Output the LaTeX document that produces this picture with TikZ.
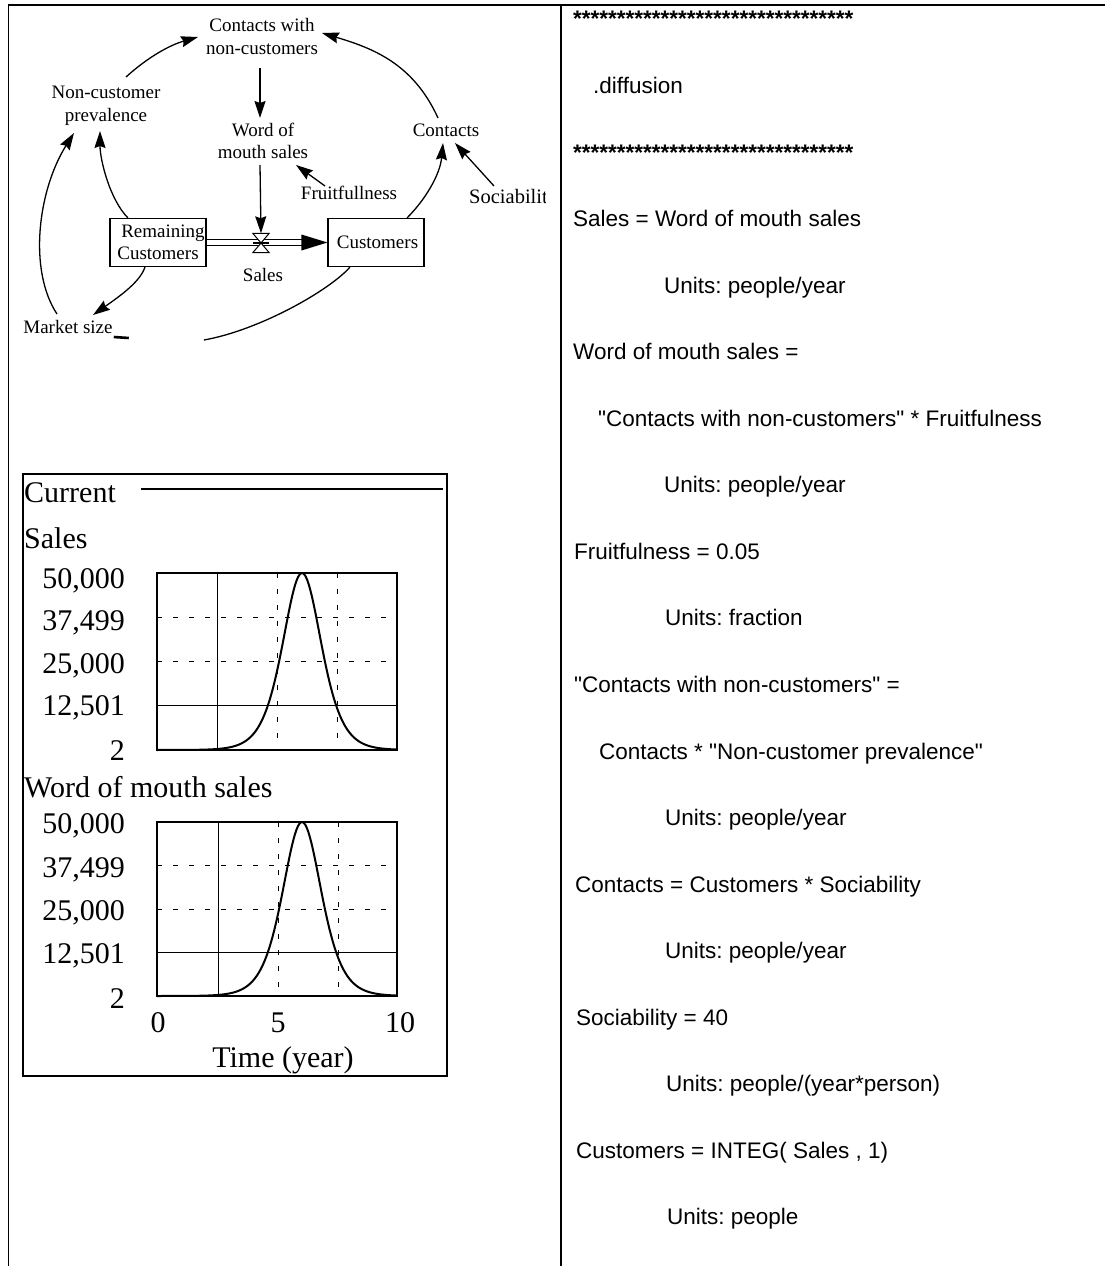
\documentclass[tikz,border=0pt]{standalone}
\usepackage{fontspec}
\setmainfont{Liberation Serif}
\newfontfamily\codefont{Liberation Sans}[Ligatures=TeXOff]
\usetikzlibrary{calc,arrows.meta}
\frenchspacing

\tikzset{
  lbl/.style={font=\fontsize{19}{22.5}\selectfont, align=center, inner sep=0pt},
  stock/.style={draw, line width=1.1pt, minimum width=96pt, minimum height=48pt,
    inner sep=0pt, font=\fontsize{19}{22}\selectfont, align=center},
  link/.style={line width=1.3pt, -{Stealth[length=17pt,width=11pt,inset=2pt]}},
  linkline/.style={line width=1.3pt},
  axlbl/.style={font=\fontsize{30}{35}\selectfont, inner sep=0pt},
  codeline/.style={font=\codefont\fontsize{22.5}{27}\selectfont, anchor=base west, inner sep=0pt},
  rule/.style={line width=1.8pt},
  plotframe/.style={line width=1.4pt},
  gridsolid/.style={line width=0.8pt},
  griddash/.style={line width=0.8pt, dash pattern=on 5pt off 11pt},
  simcurve/.style={line width=2pt, line join=round},
}

\begin{document}
\begin{tikzpicture}[x=1pt,y=-1pt]
\useasboundingbox (0,0) rectangle (1105,1266);

% page rules
\draw[rule] (8,5) -- (1105,5);
\draw[rule] (8.5,5) -- (8.5,1266);
\draw[rule] (561,5) -- (561,1266);

% ---------------- stock and flow diagram ----------------
\node[lbl] (cwn) at (262,36.5) {Contacts with\\non-customers};
\node[lbl] (ncp) at (106,106) {Non-customer\\prevalence};
\node[lbl] (wom) at (263,141) {Word of\\mouth sales};
\node[lbl] (con) at (446,130) {Contacts};
\node[lbl] (fru) at (349,193) {Fruitfullness};
\begin{scope}
  \clip (460,175) rectangle (545,215);
  \node[lbl, anchor=west, font=\fontsize{20.5}{24}\selectfont] (soc) at (469,198.7) {Sociability};
\end{scope}
\node[stock] (rc) at (158,242.5) {\hspace*{10pt}Remaining\\Customers};
\node[stock] (cust) at (376,242.5) {\hspace*{3pt}Customers};
\node[minimum width=16pt, minimum height=19pt, inner sep=0pt] (valve) at (261,243) {};
\node[lbl] (saleslbl) at (263,275) {Sales};
\node[lbl] (ms) at (68,327) {Market size};
\draw[line width=2.6pt] ($(ms.east)+(1,10)$) -- ++(15,1);

% flow pipe with valve
\draw[line width=1.1pt] ($(rc.east)+(0,-2.6)$) -- ($(cust.west)+(-24,-2.6)$);
\draw[line width=1.1pt] ($(rc.east)+(0,2.6)$) -- ($(cust.west)+(-24,2.6)$);
\fill (cust.west) -- ++(-26,-8) -- ++(0,16) -- cycle;
\draw[line width=1pt, fill=white, line join=miter]
  (valve.north west) -- (valve.north east) -- (valve.south west) -- (valve.south east) -- cycle;
\draw[line width=1.1pt] (valve.west) -- (valve.east);

% causal links
\draw[link] ($(ncp)+(20,-29)$) .. controls (148,57) and (170,45) .. ($(cwn)+(-64,0.5)$);
\draw[link] ($(con)+(-8,-12)$) .. controls (413,63) and (372,48) .. ($(cwn)+(60,-3.5)$);
\draw[link] ($(cwn)+(-2,31.5)$) -- ($(wom)+(-3,-23)$);
\draw[link] ($(wom)+(-3,24)$) -- (valve.north);
\draw[link] ($(fru)+(-24,-7)$) -- ($(wom)+(33,24)$);
\draw[link] ($(soc.west)+(25,-12.7)$) -- ($(con)+(9,13)$);
\draw[link] ($(cust.north)+(31,0)$) .. controls (425,200) and (440,175) .. ($(con)+(-3,13)$);
\draw[link] ($(rc.north)+(-30,0)$) .. controls (110,200) and (100,160) .. ($(ncp)+(-6,25)$);
\draw[link] ($(ms)+(-11,-13)$) .. controls (28,270) and (38,190) .. ($(ncp)+(-32,27)$);
\draw[link] ($(rc.south)+(-13,0)$) .. controls (140,282) and (120,296) .. ($(ms)+(25,-12)$);
\coordinate (loose) at (204,340);
\draw[linkline] ($(cust.south)+(-26,0)$) .. controls (330,290) and (260,330) .. (loose);

% ---------------- simulation graphs ----------------
\draw[plotframe] (23,474) rectangle (447,1076);
\node[axlbl, anchor=base west] (cur) at (24,502) {Current};
\draw[line width=1.5pt] ($(cur.base east)+(25,-13)$) -- (443,489);

% Sales
\node[axlbl, anchor=base west] (g1title) at (24,548) {Sales};
\foreach \v/\yy [count=\i] in {50{,}000/588, 37{,}499/630, 25{,}000/673, 12{,}501/715, 2/760}
  \node[axlbl, anchor=base east] (g1y\i) at (125,\yy) {\v};
\draw[gridsolid] (217,573) -- (217,750);
\draw[griddash] (277,573) -- (277,750);
\draw[griddash] (337,573) -- (337,750);
\draw[griddash] (157,617) -- (397,617);
\draw[griddash] (157,661) -- (397,661);
\draw[gridsolid] (157,705) -- (397,705);
\draw[simcurve] plot[domain=157:397, samples=161] (\x, {750 - 177*(1/cosh((\x-302)/26))^2});
\draw[plotframe] (157,573) rectangle (397,750);
\draw[line width=2.8pt] (157,750) -- (397,750);

% Word of mouth sales
\node[axlbl, anchor=base west] (g2title) at (24,797) {Word of mouth sales};
\foreach \v/\yy [count=\i] in {50{,}000/833, 37{,}499/877, 25{,}000/920, 12{,}501/963, 2/1008}
  \node[axlbl, anchor=base east] (g2y\i) at (125,\yy) {\v};
\draw[gridsolid] (218,822) -- (218,996);
\draw[griddash] (278,822) -- (278,996);
\draw[griddash] (338,822) -- (338,996);
\draw[griddash] (157,865) -- (397,865);
\draw[griddash] (157,909) -- (397,909);
\draw[gridsolid] (157,952) -- (397,952);
\draw[simcurve] plot[domain=157:397, samples=161] (\x, {996 - 174*(1/cosh((\x-302)/26))^2});
\draw[plotframe] (157,822) rectangle (397,996);
\draw[line width=2.8pt] (157,996) -- (397,996);
\node[axlbl, anchor=base] (tx0) at (158,1032) {0};
\node[axlbl, anchor=base] (tx5) at (278,1032) {5};
\node[axlbl, anchor=base] (tx10) at (400,1032) {10};
\node[axlbl, anchor=base] (txlbl) at (283,1067) {Time (year)};

% ---------------- model equations ----------------
\foreach \k/\xx/\txt in {
  0/573/{\bfseries********************************},
  1/593/{.diffusion},
  2/573/{\bfseries********************************},
  3/573/{Sales = Word of mouth sales},
  4/664/{Units: people/year},
  5/573/{Word of mouth sales =},
  6/598/{"Contacts with non-customers" * Fruitfulness},
  7/664/{Units: people/year},
  8/574/{Fruitfulness = 0.05},
  9/665/{Units: fraction},
  10/574/{"Contacts with non-customers" =},
  11/599/{Contacts * "Non-customer prevalence"},
  12/665/{Units: people/year},
  13/575/{Contacts = Customers * Sociability},
  14/665/{Units: people/year},
  15/576/{Sociability = 40},
  16/666/{Units: people/(year*person)},
  17/576/{Customers = INTEG( Sales , 1)},
  18/667/{Units: people}}
  \node[codeline] (eq\k) at (\xx, 27+66.55*\k) {\txt};

\end{tikzpicture}
\end{document}
